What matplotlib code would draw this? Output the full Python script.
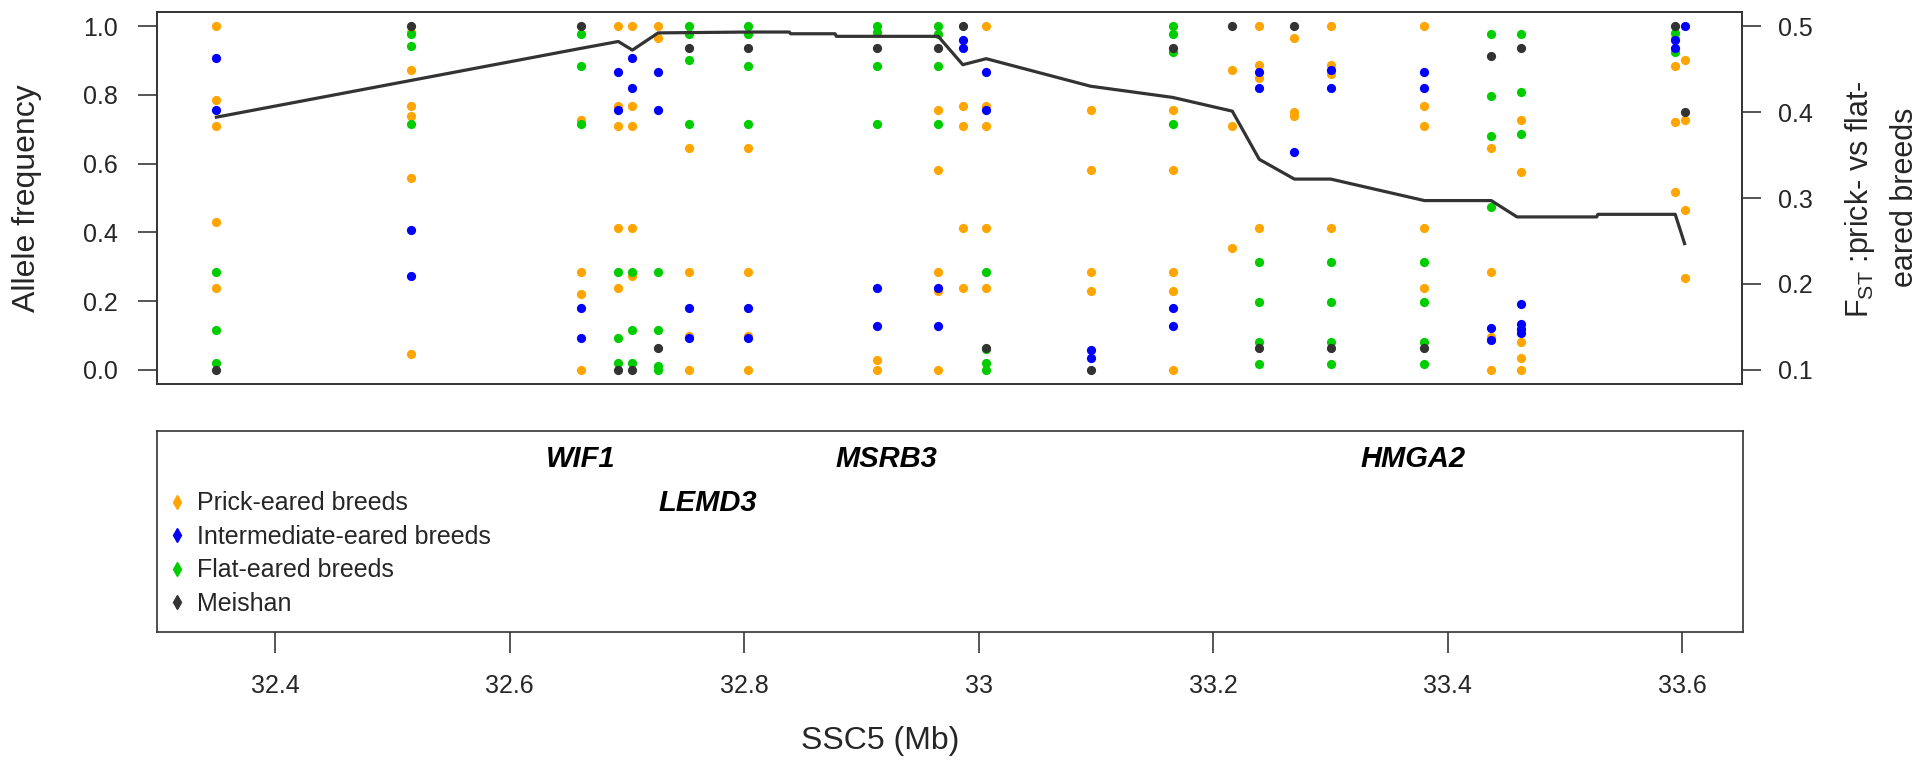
import matplotlib
matplotlib.use("Agg")
import matplotlib.pyplot as plt
from matplotlib.lines import Line2D

plt.rcParams['font.family'] = ['Liberation Sans', 'DejaVu Sans']
plt.rcParams['mathtext.fontset'] = 'custom'
plt.rcParams['mathtext.rm'] = 'Liberation Sans'
plt.rcParams['mathtext.it'] = 'Liberation Sans:italic'
plt.rcParams['mathtext.bf'] = 'Liberation Sans:bold'

# SNP positions on SSC5 (Mb)
snp_pos = [32.350, 32.516, 32.661, 32.693, 32.705, 32.727, 32.753, 32.804,
           32.914, 32.966, 32.987, 33.007, 33.096, 33.166, 33.217, 33.240,
           33.270, 33.301, 33.381, 33.438, 33.463, 33.595, 33.603]

# allele frequencies per SNP, one list per breed group
prick = [[1.0, 0.785, 0.709, 0.429, 0.237],
         [0.984, 0.872, 0.767, 0.738, 0.557, 0.046],
         [0.727, 0.284, 0.220, 0.0],
         [1.0, 0.767, 0.709, 0.412, 0.237],
         [1.0, 0.767, 0.709, 0.412, 0.272],
         [1.0, 0.965],
         [0.645, 0.284, 0.099, 0.0],
         [0.645, 0.284, 0.099, 0.0],
         [0.030, 0.0],
         [0.756, 0.581, 0.284, 0.231, 0.0],
         [0.767, 0.709, 0.412, 0.237],
         [1.0, 0.767, 0.709, 0.412, 0.237],
         [0.756, 0.581, 0.284, 0.231],
         [0.756, 0.581, 0.284, 0.231, 0.0],
         [0.872, 0.709, 0.354],
         [1.0, 0.886, 0.849, 0.412],
         [0.965, 0.750, 0.738],
         [1.0, 0.886, 0.860, 0.412],
         [1.0, 0.767, 0.709, 0.412, 0.237],
         [0.645, 0.284, 0.096, 0.0],
         [0.727, 0.576, 0.080, 0.034, 0.0],
         [0.965, 0.884, 0.720, 0.516],
         [0.901, 0.727, 0.465, 0.267]]

intermediate = [[0.907, 0.756], [0.407, 0.273], [0.179, 0.092], [0.866, 0.756],
                [0.907, 0.820], [0.866, 0.756], [0.179, 0.092], [0.179, 0.092],
                [0.237, 0.127], [0.237, 0.127], [0.959, 0.936], [0.866, 0.756],
                [0.058, 0.034], [0.179, 0.127], [], [0.866, 0.820],
                [0.633], [0.872, 0.820], [0.866, 0.820], [0.121, 0.087],
                [0.192, 0.134, 0.120, 0.107], [0.959, 0.936], [1.0]]

flat = [[0.284, 0.115, 0.019], [0.977, 0.942, 0.715], [0.977, 0.884, 0.715],
        [0.284, 0.092, 0.019], [0.284, 0.115, 0.019], [0.284, 0.115, 0.012, 0.0],
        [1.0, 0.977, 0.901, 0.715], [1.0, 0.977, 0.884, 0.715],
        [1.0, 0.983, 0.884, 0.715], [1.0, 0.977, 0.884, 0.715], [],
        [0.284, 0.060, 0.019, 0.0], [], [1.0, 0.977, 0.924, 0.715], [],
        [0.313, 0.197, 0.081, 0.017], [], [0.313, 0.197, 0.081, 0.017],
        [0.313, 0.197, 0.081, 0.017], [0.977, 0.797, 0.680, 0.475],
        [0.977, 0.808, 0.686], [0.980, 0.925], []]

meishan = [0.0, 1.0, 1.0, 0.0, 0.0, 0.063, 0.936, 0.936, 0.936, 0.936, 1.0, 0.063,
           0.0, 0.936, 1.0, 0.063, 1.0, 0.063, 0.063, 0.913, 0.936, 1.0, 0.750]

# FST prick- vs flat-eared (right axis)
fst_pos = [32.350, 32.661, 32.693, 32.705, 32.727, 32.804, 32.839, 32.840, 32.878,
           32.879, 32.966, 32.987, 33.007, 33.096, 33.166, 33.217, 33.240, 33.270,
           33.301, 33.381, 33.438, 33.460, 33.528, 33.529, 33.595, 33.603]
fst_val = [0.394, 0.474, 0.482, 0.472, 0.492, 0.493, 0.493, 0.491, 0.491,
           0.488, 0.488, 0.455, 0.462, 0.430, 0.417, 0.401, 0.345, 0.322,
           0.322, 0.297, 0.297, 0.278, 0.278, 0.281, 0.281, 0.247]

genes = ['WIF1', 'LEMD3', 'MSRB3', 'HMGA2']
gene_pos = [32.661, 32.769, 32.921, 33.371]
gene_row = [0, 1, 0, 0]

group_names = ['Prick-eared breeds', 'Intermediate-eared breeds', 'Flat-eared breeds', 'Meishan']
group_colors = ['#FFA500', '#0000FF', '#00CD00', '#333333']

dark = '#262626'
fig = plt.figure(figsize=(19.2, 7.62), dpi=100)
ax = fig.add_axes([157/1920, 1-384/762, (1742-157)/1920, (384-12)/762])
axb = fig.add_axes([157/1920, 1-632/762, (1743-157)/1920, (632-431)/762], sharex=ax)

def flatten(groups):
    xs, ys = [], []
    for p, vals in zip(snp_pos, groups):
        for v in vals:
            xs.append(p)
            ys.append(v)
    return xs, ys

# drawing order: prick, flat, intermediate, meishan on top
for data, col in [(prick, group_colors[0]), (flat, group_colors[2]),
                  (intermediate, group_colors[1])]:
    xs, ys = flatten(data)
    ax.scatter(xs, ys, s=44, color=col, linewidths=0, zorder=3)
ax.scatter(snp_pos, meishan, s=44, color=group_colors[3], linewidths=0, zorder=3)

ax.set_xlim(32.2993, 33.652)
ax.set_ylim(-0.0407, 1.0407)
ax.set_yticks([0, 0.2, 0.4, 0.6, 0.8, 1.0])
ax.set_yticklabels(['0.0', '0.2', '0.4', '0.6', '0.8', '1.0'])
ax.tick_params(axis='y', length=14, width=1.1, pad=14, labelsize=18, colors=dark)
ax.tick_params(axis='x', bottom=False, labelbottom=False)

ax2 = ax.twinx()
ax2.plot(fst_pos, fst_val, color='#333333', lw=2.3, zorder=5)
ax2.set_ylim(0.0837, 0.5163)
ax2.set_yticks([0.1, 0.2, 0.3, 0.4, 0.5])
ax2.set_yticklabels(['0.1', '0.2', '0.3', '0.4', '0.5'])
ax2.tick_params(axis='y', length=14, width=1.1, pad=12, labelsize=18, colors=dark)

for a in (ax, ax2, axb):
    for s in a.spines.values():
        s.set_linewidth(1.2)
        s.set_color('#333333')

# lower panel: gene names and legend
axb.set_ylim(0, 1)
axb.set_yticks([])
axb.set_xticks([32.4, 32.6, 32.8, 33.0, 33.2, 33.4, 33.6])
axb.set_xticklabels(['32.4', '32.6', '32.8', '33', '33.2', '33.4', '33.6'])
axb.tick_params(axis='x', length=15, width=1.1, pad=15, labelsize=18, colors=dark)
row_y = [0.861, 0.642]
for g, p, r in zip(genes, gene_pos, gene_row):
    axb.text(p, row_y[r], g, ha='center', va='center', fontsize=21,
             fontweight='bold', fontstyle='italic', color='black')

handles = [Line2D([], [], marker='d', linestyle='none', color=c, markersize=7.5)
           for c in group_colors]
axb.legend(handles, group_names, loc='upper left', bbox_to_anchor=(0.008, 0.70),
           frameon=False, fontsize=18, handlelength=0.6, handletextpad=0.5,
           labelspacing=0.38, borderpad=0, borderaxespad=0, labelcolor=dark)

fig.text(27/1920, 1-198/762, 'Allele frequency', rotation=90, ha='center', va='center',
         fontsize=23, color=dark)
fig.text(1860/1920, 1-199/762, r'F$_{\mathrm{ST}}$ :prick- vs flat-', rotation=90,
         ha='center', va='center', fontsize=22, color=dark)
fig.text(1905/1920, 1-197/762, 'eared breeds', rotation=90, ha='center', va='center',
         fontsize=22, color=dark)
fig.text(880/1920, 1-741/762, 'SSC5 (Mb)', ha='center', va='center', fontsize=23, color=dark)

fig.savefig('out.png', dpi=100)
